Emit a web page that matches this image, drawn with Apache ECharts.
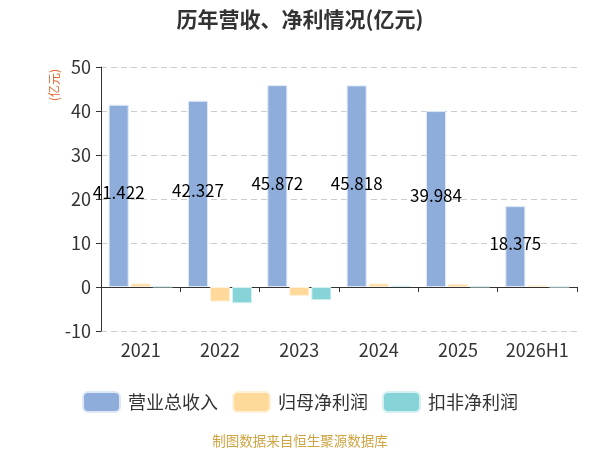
<!DOCTYPE html>
<html lang="zh">
<head>
    <meta charset="UTF-8">
    <title>历年营收、净利情况</title>
    <script src="https://cdn.jsdelivr.net/npm/echarts@6/dist/echarts.min.js"></script>
</head>
<body style="margin:0;">
<div id="myChart" style="width: 600px;height: 450px;"></div>
<script>
    var years = ['2021', '2022', '2023', '2024', '2025', '2026H1'];
    var revenue = [41.422, 42.327, 45.872, 45.818, 39.984, 18.375];
    var netProfit = [0.8, -3.3, -2.0, 0.8, 0.7, 0.4];
    var deductedProfit = [0.1, -3.7, -3.0, 0.3, 0.1, 0.05];
    var yTicks = {min: -10, max: 50, interval: 10};

    var myChart = echarts.init(document.getElementById('myChart'));
    var font = '"Noto Sans CJK SC", "Noto Sans", sans-serif';

    var option = {
        textStyle: {fontFamily: font},
        title: {
            text: '历年营收、净利情况(亿元)',
            left: 'center',
            top: 4,
            textStyle: {fontSize: 21, fontWeight: 'bold', color: '#333', fontFamily: font}
        },
        legend: {
            bottom: 32,
            left: 'center',
            itemWidth: 37,
            itemHeight: 20,
            itemGap: 14,
            icon: 'roundRect',
            textStyle: {fontSize: 18, color: '#333', padding: [0, 0, 0, 3]},
            data: ['营业总收入', '归母净利润', '扣非净利润']
        },
        graphic: [
            {
                type: 'text',
                left: 'center',
                bottom: 2,
                style: {text: '制图数据来自恒生聚源数据库', fill: '#cfa443', fontSize: 13.5, fontFamily: font}
            },
            {
                type: 'text',
                left: 48,
                top: 69,
                rotation: Math.PI / 2,
                originX: 0,
                originY: 0,
                style: {text: '(亿元)', fill: '#e5692f', fontSize: 12, fontFamily: font}
            }
        ],
        grid: {left: 101, right: 23, top: 67, bottom: 119},
        xAxis: {
            type: 'category',
            data: years,
            axisLine: {onZero: true, lineStyle: {color: '#333'}},
            axisTick: {show: true, alignWithLabel: false, lineStyle: {color: '#333'}},
            axisLabel: {fontSize: 18, color: '#333', margin: 10, interval: 0}
        },
        yAxis: {
            type: 'value',
            min: yTicks.min,
            max: yTicks.max,
            interval: yTicks.interval,
            axisLine: {show: true, lineStyle: {color: '#333'}},
            axisTick: {show: true, lineStyle: {color: '#333'}},
            axisLabel: {fontSize: 18, color: '#333', margin: 10},
            splitLine: {lineStyle: {type: [6, 4], color: '#ccc'}}
        },
        series: [
            {
                name: '营业总收入',
                type: 'bar',
                data: revenue,
                barWidth: 20,
                barGap: '10%',
                itemStyle: {color: '#8eaddb', borderColor: '#dfe8f6', borderWidth: 1},
                label: {show: true, position: 'inside', offset: [0, -3], color: '#000', fontSize: 17}
            },
            {
                name: '归母净利润',
                type: 'bar',
                data: netProfit,
                barWidth: 20,
                barGap: '10%',
                itemStyle: {color: '#ffd999', borderColor: '#fff0d8', borderWidth: 1}
            },
            {
                name: '扣非净利润',
                type: 'bar',
                data: deductedProfit,
                barWidth: 20,
                barGap: '10%',
                itemStyle: {color: '#86d4d8', borderColor: '#d4f0f1', borderWidth: 1}
            }
        ]
    };
    myChart.setOption(option);
</script>
</body>
</html>
